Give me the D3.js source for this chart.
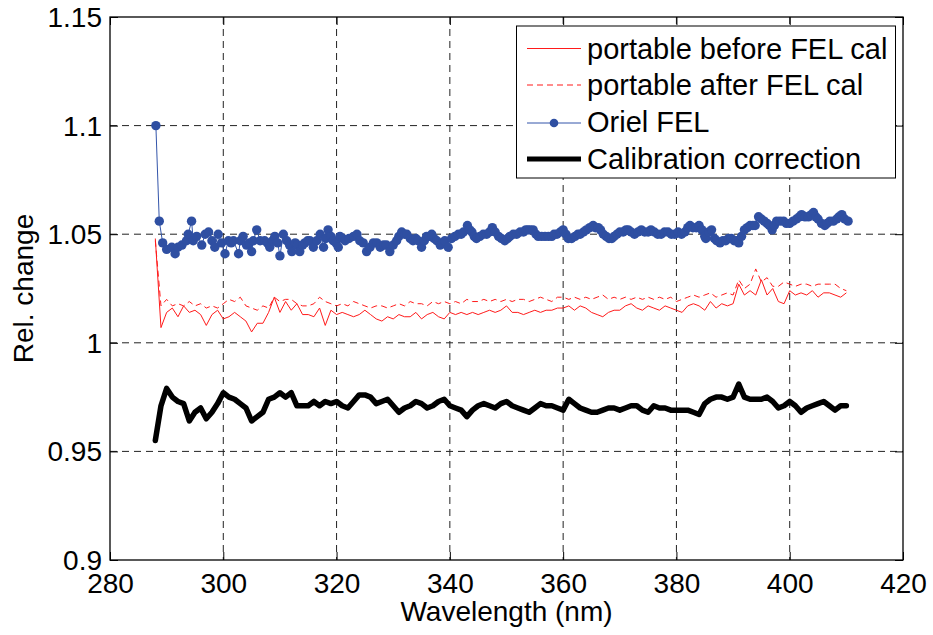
<!DOCTYPE html>
<html>
<head>
<meta charset="utf-8">
<script src="https://cdn.jsdelivr.net/npm/d3@7/dist/d3.min.js"></script>
<style>
html,body{margin:0;padding:0;background:#fff;}
svg text{font-family:"Liberation Sans",Arial,Helvetica,sans-serif;}
</style>
</head>
<body>
<svg id="chart" width="933" height="635"></svg>
<script>
// ---------- DATA ----------
const xTicks = [280, 300, 320, 340, 360, 380, 400, 420];
const yTicks = [0.9, 0.95, 1, 1.05, 1.1, 1.15];
const yTickLabels = ["0.9", "0.95", "1", "1.05", "1.1", "1.15"];
const seriesNames = ["portable before FEL cal", "portable after FEL cal", "Oriel FEL", "Calibration correction"];

// wavelength grid (nm) for portable/calibration series: 288 ... 410, 1 nm
const wavelengths = d3.range(288, 411, 1);

const portableBefore = [
1.048,1.007,1.014,1.016,1.012,1.017,1.014,1.015,1.013,1.008,
1.013,1.015,1.011,1.012,1.014,1.012,1.010,1.005,1.009,1.009,
1.014,1.021,1.014,1.019,1.015,1.018,1.013,1.013,1.012,1.016,
1.008,1.015,1.013,1.014,1.013,1.012,1.013,1.015,1.013,1.011,
1.010,1.012,1.011,1.013,1.012,1.012,1.014,1.011,1.013,1.014,
1.012,1.011,1.014,1.013,1.014,1.013,1.014,1.013,1.014,1.015,
1.014,1.015,1.017,1.014,1.014,1.013,1.014,1.015,1.014,1.015,
1.015,1.016,1.016,1.017,1.015,1.017,1.016,1.014,1.013,1.012,
1.014,1.015,1.015,1.017,1.018,1.016,1.015,1.017,1.016,1.015,
1.017,1.016,1.015,1.014,1.017,1.018,1.017,1.015,1.019,1.016,
1.018,1.017,1.018,1.027,1.022,1.024,1.022,1.029,1.022,1.025,
1.019,1.018,1.024,1.022,1.023,1.022,1.024,1.021,1.023,1.023,
1.022,1.021,1.023];

const portableAfter = [
1.047,1.017,1.020,1.017,1.018,1.017,1.019,1.017,1.018,1.016,
1.017,1.016,1.018,1.020,1.019,1.021,1.017,1.016,1.015,1.017,
1.016,1.021,1.019,1.020,1.020,1.018,1.017,1.017,1.018,1.021,
1.019,1.018,1.017,1.018,1.017,1.019,1.018,1.017,1.016,1.017,
1.017,1.016,1.017,1.018,1.017,1.019,1.018,1.018,1.017,1.019,
1.018,1.019,1.018,1.019,1.018,1.020,1.019,1.019,1.020,1.019,
1.020,1.019,1.020,1.019,1.020,1.020,1.019,1.020,1.021,1.020,
1.019,1.021,1.021,1.020,1.021,1.020,1.021,1.020,1.021,1.022,
1.020,1.021,1.020,1.021,1.020,1.021,1.020,1.021,1.020,1.021,
1.020,1.021,1.019,1.020,1.021,1.022,1.021,1.022,1.023,1.021,
1.022,1.023,1.022,1.029,1.025,1.027,1.034,1.028,1.030,1.026,
1.026,1.028,1.027,1.026,1.027,1.027,1.026,1.027,1.027,1.027,
1.027,1.025,1.024];

const calibration = [
0.955,0.971,0.979,0.975,0.973,0.972,0.964,0.968,0.970,0.965,
0.968,0.972,0.977,0.975,0.974,0.972,0.970,0.964,0.966,0.968,
0.974,0.975,0.977,0.975,0.977,0.971,0.971,0.971,0.973,0.971,
0.973,0.972,0.973,0.971,0.970,0.973,0.976,0.976,0.975,0.972,
0.973,0.974,0.971,0.968,0.970,0.971,0.973,0.972,0.970,0.971,
0.973,0.974,0.971,0.970,0.969,0.966,0.969,0.971,0.972,0.971,
0.970,0.972,0.973,0.971,0.970,0.969,0.968,0.970,0.972,0.971,
0.971,0.970,0.969,0.974,0.972,0.970,0.969,0.968,0.968,0.969,
0.970,0.970,0.969,0.970,0.971,0.971,0.969,0.968,0.971,0.970,
0.970,0.969,0.969,0.969,0.969,0.968,0.967,0.972,0.974,0.975,
0.975,0.974,0.975,0.981,0.975,0.974,0.974,0.974,0.975,0.973,
0.970,0.971,0.973,0.971,0.968,0.970,0.971,0.972,0.973,0.971,
0.969,0.971,0.971];

const orielWl = [
288.1,288.7,289.3,290.0,290.9,291.5,292.0,292.7,293.5,293.8,294.4,294.7,295.3,296.2,296.8,297.4,298.0,298.5,299.1,299.7,
300.3,300.9,301.4,301.8,302.7,303.0,303.5,304.1,304.6,305.0,305.3,305.9,306.5,307.3,307.8,308.2,308.7,309.1,309.6,310.0,
310.6,311.2,311.7,312.1,312.7,313.1,313.5,314.0,314.4,314.9,315.3,315.9,316.5,317.1,317.7,318.1,318.5,319.0,319.4,319.9,
320.3,320.6,321.1,321.5,322.2,323.0,323.6,324.1,324.7,325.3,325.9,326.5,327.1,327.7,328.3,328.8,329.4,330.0,330.6,331.0,
331.5,332.0,332.4,333.0,333.5,334.0,334.4,335.0,335.5,335.9,336.4,336.8,337.2,337.7,338.3,338.7,339.1,339.7,340.3,340.9,
341.5,342.0,342.4,343.1,343.5,343.9,344.3,344.7,345.3,345.9,346.5,347.0,347.5,348.0,348.6,349.1,349.7,350.2,350.6,351.2,
351.8,352.4,353.0,353.4,353.8,354.2,354.7,355.2,355.6,356.2,356.8,357.4,358.0,358.4,358.9,359.5,360.0,360.5,360.9,361.5,
362.1,362.6,363.0,363.6,364.1,364.7,365.3,365.7,366.2,366.6,367.1,367.6,368.1,368.6,369.0,369.5,370.0,370.6,371.1,371.5,
372.0,372.6,373.2,373.8,374.4,375.0,375.5,376.1,376.7,377.3,377.9,378.5,379.1,379.7,380.3,380.9,381.5,382.0,382.4,382.9,
383.5,384.0,384.5,385.0,385.2,385.7,386.2,386.7,387.1,387.7,388.2,388.7,389.2,389.7,390.2,390.6,391.0,391.5,392.0,392.5,
393.0,393.5,393.9,394.5,395.0,395.5,396.0,396.4,396.9,397.3,397.7,398.3,398.9,399.4,400.0,400.6,401.2,401.7,402.1,402.7,
403.3,403.8,404.2,404.6,405.0,405.6,406.2,406.6,407.1,407.7,408.3,408.7,409.2,409.7,410.3];
const orielVal = [
1.100,1.056,1.046,1.043,1.044,1.041,1.044,1.045,1.047,1.050,1.056,1.047,1.049,1.045,1.050,1.051,1.047,1.044,1.050,1.046,
1.041,1.047,1.046,1.047,1.041,1.047,1.049,1.045,1.046,1.042,1.047,1.052,1.047,1.047,1.046,1.044,1.047,1.049,1.046,1.040,
1.050,1.047,1.045,1.042,1.046,1.045,1.042,1.045,1.046,1.047,1.047,1.044,1.047,1.050,1.044,1.048,1.052,1.049,1.047,1.046,
1.044,1.049,1.048,1.047,1.048,1.049,1.050,1.047,1.046,1.042,1.044,1.046,1.046,1.044,1.045,1.045,1.042,1.045,1.047,1.049,
1.051,1.050,1.050,1.048,1.047,1.048,1.047,1.044,1.047,1.049,1.049,1.050,1.048,1.047,1.045,1.046,1.047,1.044,1.048,1.049,
1.050,1.050,1.051,1.054,1.052,1.051,1.049,1.048,1.049,1.050,1.050,1.051,1.053,1.051,1.049,1.048,1.047,1.048,1.049,1.050,
1.050,1.051,1.051,1.052,1.052,1.052,1.052,1.050,1.049,1.049,1.049,1.049,1.049,1.050,1.050,1.051,1.052,1.050,1.048,1.048,
1.049,1.050,1.050,1.051,1.052,1.053,1.054,1.053,1.053,1.052,1.050,1.049,1.048,1.048,1.049,1.050,1.051,1.051,1.052,1.052,
1.051,1.050,1.051,1.052,1.051,1.051,1.052,1.051,1.050,1.050,1.051,1.051,1.050,1.050,1.051,1.050,1.051,1.053,1.054,1.053,
1.053,1.054,1.052,1.049,1.048,1.051,1.052,1.048,1.047,1.046,1.047,1.047,1.048,1.048,1.047,1.047,1.046,1.049,1.052,1.053,
1.054,1.054,1.054,1.058,1.057,1.056,1.055,1.054,1.052,1.054,1.056,1.056,1.056,1.055,1.055,1.056,1.057,1.058,1.059,1.058,
1.058,1.059,1.060,1.058,1.057,1.055,1.054,1.055,1.056,1.056,1.057,1.058,1.059,1.057,1.056];

// ---------- CHART ----------
const W = 933, H = 635;
const m = {left: 110, top: 17, right: 30, bottom: 75};
const pw = W - m.left - m.right;   // 793
const ph = H - m.top - m.bottom;   // 543

const svg = d3.select("#chart");
const g = svg.append("g").attr("transform", `translate(${m.left},${m.top})`);

const x = d3.scaleLinear().domain([280, 420]).range([0, pw]);
const y = d3.scaleLinear().domain([0.9, 1.15]).range([ph, 0]);

// grid
const gridColor = "#222";
g.append("g").selectAll("line").data(xTicks.slice(1, -1)).join("line")
  .attr("x1", d => x(d)).attr("x2", d => x(d)).attr("y1", 0).attr("y2", ph)
  .attr("stroke", gridColor).attr("stroke-width", 1).attr("stroke-dasharray", "7,5");
g.append("g").selectAll("line").data(yTicks.slice(1, -1)).join("line")
  .attr("y1", d => y(d)).attr("y2", d => y(d)).attr("x1", 0).attr("x2", pw)
  .attr("stroke", gridColor).attr("stroke-width", 1).attr("stroke-dasharray", "7,5");

// axes
const fs = 28;
const ax = g.append("g").attr("transform", `translate(0,${ph})`)
  .call(d3.axisBottom(x).tickValues(xTicks).tickFormat(d3.format("d")).tickSize(-8).tickPadding(13));
const ay = g.append("g")
  .call(d3.axisLeft(y).tickValues(yTicks).tickFormat((d, i) => yTickLabels[i]).tickSize(-8).tickPadding(8));
const at = g.append("g").call(d3.axisTop(x).tickValues(xTicks).tickFormat("").tickSize(-8));
const ar = g.append("g").attr("transform", `translate(${pw},0)`)
  .call(d3.axisRight(y).tickValues(yTicks).tickFormat("").tickSize(-8));
[ax, ay, at, ar].forEach(a => {
  a.select(".domain").remove();
  a.selectAll("line").attr("stroke", "#000");
  a.selectAll("text").attr("font-size", fs).attr("fill", "#000")
    .attr("font-family", '"Liberation Sans",Arial,sans-serif');
});
ay.selectAll("text").attr("dy", "0.34em");

// data lines
const lineGen = d3.line().x(d => x(d[0])).y(d => y(d[1]));
const pb = wavelengths.map((w, i) => [w, portableBefore[i]]);
const pa = wavelengths.map((w, i) => [w, portableAfter[i]]);
const cal = wavelengths.map((w, i) => [w, calibration[i]]);
const ori = orielWl.map((w, i) => [w, orielVal[i]]);

const plot = g.append("g");
plot.append("path").datum(pb).attr("d", lineGen).attr("fill", "none")
  .attr("stroke", "#ff1a1a").attr("stroke-width", 1);
plot.append("path").datum(pa).attr("d", lineGen).attr("fill", "none")
  .attr("stroke", "#ff1a1a").attr("stroke-width", 1).attr("stroke-dasharray", "6,4");
plot.append("path").datum(ori).attr("d", lineGen).attr("fill", "none")
  .attr("stroke", "#3355aa").attr("stroke-width", 1);
plot.append("g").selectAll("circle").data(ori).join("circle")
  .attr("cx", d => x(d[0])).attr("cy", d => y(d[1])).attr("r", 4.7)
  .attr("fill", "#2f4fa2");
plot.append("path").datum(cal).attr("d", lineGen).attr("fill", "none")
  .attr("stroke", "#000").attr("stroke-width", 5.5).attr("stroke-linejoin", "round").attr("stroke-linecap", "round");

// box
g.append("rect").attr("x", 0).attr("y", 0).attr("width", pw).attr("height", ph)
  .attr("fill", "none").attr("stroke", "#000").attr("stroke-width", 1.3);

// axis labels
svg.append("text").attr("x", m.left + pw / 2).attr("y", 621).attr("text-anchor", "middle")
  .attr("font-size", fs).text("Wavelength (nm)");
svg.append("text").attr("transform", `translate(33,${m.top + ph / 2}) rotate(-90)`)
  .attr("text-anchor", "middle").attr("font-size", fs).text("Rel. change");

// legend
const lfs = 29;
const lg = svg.append("g");
lg.append("rect").attr("x", 516.5).attr("y", 26).attr("width", 379).attr("height", 152)
  .attr("fill", "#fff").attr("stroke", "#000").attr("stroke-width", 1);
const rows = [58.5, 95, 132, 169];
const lx1 = 527, lx2 = 581;
// row 0
lg.append("line").attr("x1", lx1).attr("x2", lx2).attr("y1", rows[0] - 10).attr("y2", rows[0] - 10)
  .attr("stroke", "#ff1a1a").attr("stroke-width", 1);
// row 1
lg.append("line").attr("x1", lx1).attr("x2", lx2).attr("y1", rows[1] - 10).attr("y2", rows[1] - 10)
  .attr("stroke", "#ff1a1a").attr("stroke-width", 1).attr("stroke-dasharray", "6,4");
// row 2
lg.append("line").attr("x1", lx1).attr("x2", lx2).attr("y1", rows[2] - 9).attr("y2", rows[2] - 9)
  .attr("stroke", "#3355aa").attr("stroke-width", 1);
lg.append("circle").attr("cx", (lx1 + lx2) / 2).attr("cy", rows[2] - 9).attr("r", 4.3).attr("fill", "#2f4fa2");
// row 3
lg.append("line").attr("x1", lx1).attr("x2", lx2).attr("y1", rows[3] - 10).attr("y2", rows[3] - 10)
  .attr("stroke", "#000").attr("stroke-width", 5);
lg.selectAll("text.lab").data(seriesNames).join("text").attr("class", "lab")
  .attr("x", 587).attr("y", (d, i) => rows[i]).attr("font-size", lfs).text(d => d);
</script>
</body>
</html>
